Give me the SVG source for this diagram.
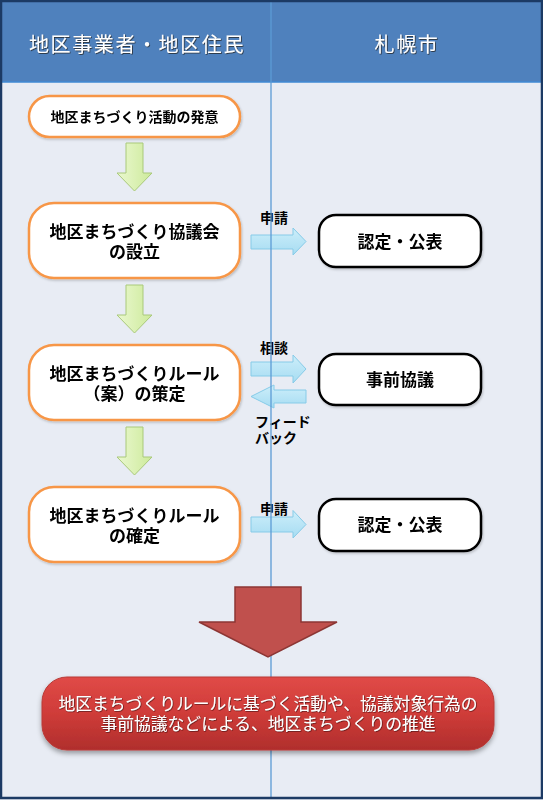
<svg xmlns="http://www.w3.org/2000/svg" width="543" height="800" viewBox="0 0 543 800">
<defs>
<style>
.hdr{font-family:"Noto Sans CJK JP","Noto Sans CJK SC",sans-serif;font-size:20px;fill:#ffffff;letter-spacing:1.6px;text-anchor:middle;filter:url(#tsh)}
.nt{font-family:"Noto Sans CJK JP","Noto Sans CJK SC",sans-serif;font-weight:bold;fill:#000000;text-anchor:middle}
.lbl{font-family:"Noto Sans CJK JP","Noto Sans CJK SC",sans-serif;font-weight:bold;font-size:14px;fill:#000000}
.onode{fill:#ffffff;stroke:#f79646;stroke-width:2.5}
.bnode{fill:#ffffff;stroke:#000000;stroke-width:2.5}
.barrow{fill:url(#gb);stroke:#86cbe8;stroke-width:1}
.garrow{fill:url(#gg);stroke:#a9c97a;stroke-width:1}
.rt{font-family:"Noto Sans CJK JP","Noto Sans CJK SC",sans-serif;font-size:16.8px;fill:#ffffff;text-anchor:middle;filter:url(#tsh2)}
</style>
<linearGradient id="gb" x1="0" y1="0" x2="0" y2="1"><stop offset="0" stop-color="#cdeefa"/><stop offset="1" stop-color="#a6dcf2"/></linearGradient>
<linearGradient id="gg" x1="0" y1="0" x2="1" y2="0"><stop offset="0" stop-color="#eaf8cf"/><stop offset="1" stop-color="#cdea9b"/></linearGradient>
<linearGradient id="gr" x1="0" y1="0" x2="0" y2="1"><stop offset="0" stop-color="#e04a47"/><stop offset="0.5" stop-color="#cf3c39"/><stop offset="1" stop-color="#b02e2c"/></linearGradient>
<filter id="tsh" x="-10%" y="-30%" width="120%" height="160%"><feDropShadow dx="0.8" dy="0.8" stdDeviation="0.4" flood-color="#222222" flood-opacity="0.9"/></filter>
<filter id="tsh2" x="-10%" y="-30%" width="120%" height="160%"><feDropShadow dx="0.6" dy="0.6" stdDeviation="0.4" flood-color="#3a0c0c" flood-opacity="0.9"/></filter>
<filter id="bsh" x="-10%" y="-20%" width="120%" height="150%"><feDropShadow dx="0" dy="3" stdDeviation="2.5" flood-color="#000000" flood-opacity="0.35"/></filter>
<filter id="nsh" x="-10%" y="-20%" width="120%" height="150%"><feDropShadow dx="1" dy="1.5" stdDeviation="1.2" flood-color="#000000" flood-opacity="0.2"/></filter>
</defs>

<!-- background -->
<rect x="0" y="0" width="543" height="800" fill="#e8ecf4"/>
<rect x="0" y="0" width="543" height="82" fill="#4f81bd"/>
<line x1="0" y1="82" x2="543" y2="82" stroke="#3f8ad4" stroke-width="1.5"/>

<g id="headers">
<text class="hdr" x="137" y="52">地区事業者・地区住民</text>
<text class="hdr" x="407" y="52">札幌市</text>
</g>

<g id="connectors">
<!-- green down arrows -->
<polygon class="garrow" points="126,143 143,143 143,173 152,173 134.5,191 117,173 126,173"/>
<polygon class="garrow" points="126,285 143,285 143,315 152,315 134.5,333 117,315 126,315"/>
<polygon class="garrow" points="126,427 143,427 143,457 152,457 134.5,475 117,457 126,457"/>
<!-- light blue side arrows -->
<polygon class="barrow" points="251,235 293,235 293,228 306,241.5 293,255 293,249 251,249"/>
<polygon class="barrow" points="251,362 293,362 293,355 306,369 293,383 293,376 251,376"/>
<polygon class="barrow" points="306,390 274,390 274,385 251,396.5 274,408 274,403 306,403"/>
<polygon class="barrow" points="251,517 293,517 293,510.5 306,524.5 293,538 293,532 251,532"/>
<text class="lbl" x="260" y="223">申請</text>
<text class="lbl" x="260" y="353">相談</text>
<text class="lbl" x="255" y="427">フィード<tspan x="255" dy="16">バック</tspan></text>
<text class="lbl" x="260" y="514">申請</text>
</g>

<!-- lane divider -->
<line x1="271" y1="0" x2="271" y2="798" stroke="#5b9bd5" stroke-width="1.3"/>

<g id="n1" filter="url(#nsh)">
<rect class="onode" x="29" y="96" width="211" height="41" rx="20.5"/>
<text class="nt" x="134.5" y="122" font-size="14">地区まちづくり活動の発意</text>
</g>
<g id="n2" filter="url(#nsh)">
<rect class="onode" x="29" y="203" width="211" height="75" rx="25"/>
<text class="nt" x="134.5" y="238" font-size="17">地区まちづくり協議会<tspan x="134.5" dy="19.5">の設立</tspan></text>
</g>
<g id="n3" filter="url(#nsh)">
<rect class="onode" x="29" y="345" width="211" height="75" rx="25"/>
<text class="nt" x="134.5" y="380" font-size="17">地区まちづくりルール<tspan x="134.5" dy="20">（案）の策定</tspan></text>
</g>
<g id="n4" filter="url(#nsh)">
<rect class="onode" x="29" y="487" width="211" height="75" rx="25"/>
<text class="nt" x="134.5" y="522" font-size="17">地区まちづくりルール<tspan x="134.5" dy="20">の確定</tspan></text>
</g>
<g id="c1" filter="url(#nsh)">
<rect class="bnode" x="319" y="215" width="162" height="52" rx="17"/>
<text class="nt" x="400" y="248" font-size="17">認定・公表</text>
</g>
<g id="c2" filter="url(#nsh)">
<rect class="bnode" x="319" y="354" width="162" height="51" rx="17"/>
<text class="nt" x="400" y="386" font-size="17">事前協議</text>
</g>
<g id="c3" filter="url(#nsh)">
<rect class="bnode" x="319" y="499" width="162" height="52" rx="17"/>
<text class="nt" x="400" y="531" font-size="17">認定・公表</text>
</g>

<g id="bigarrow">
<polygon points="235,587 301,587 301,622 337,622 268,657 199,622 235,622" fill="#c0504d" stroke="#8c3634" stroke-width="1.5"/>
</g>

<g id="result" filter="url(#bsh)">
<rect x="42" y="677" width="452" height="73" rx="25" fill="url(#gr)" stroke="#b83a37" stroke-width="1"/>
<text class="rt" x="268" y="710">地区まちづくりルールに基づく活動や、協議対象行為の<tspan x="268" dy="20">事前協議などによる、地区まちづくりの推進</tspan></text>
</g>

<!-- outer frame -->
<rect x="1" y="1" width="541" height="797" fill="none" stroke="#1c3a64" stroke-width="2.5"/>
</svg>
